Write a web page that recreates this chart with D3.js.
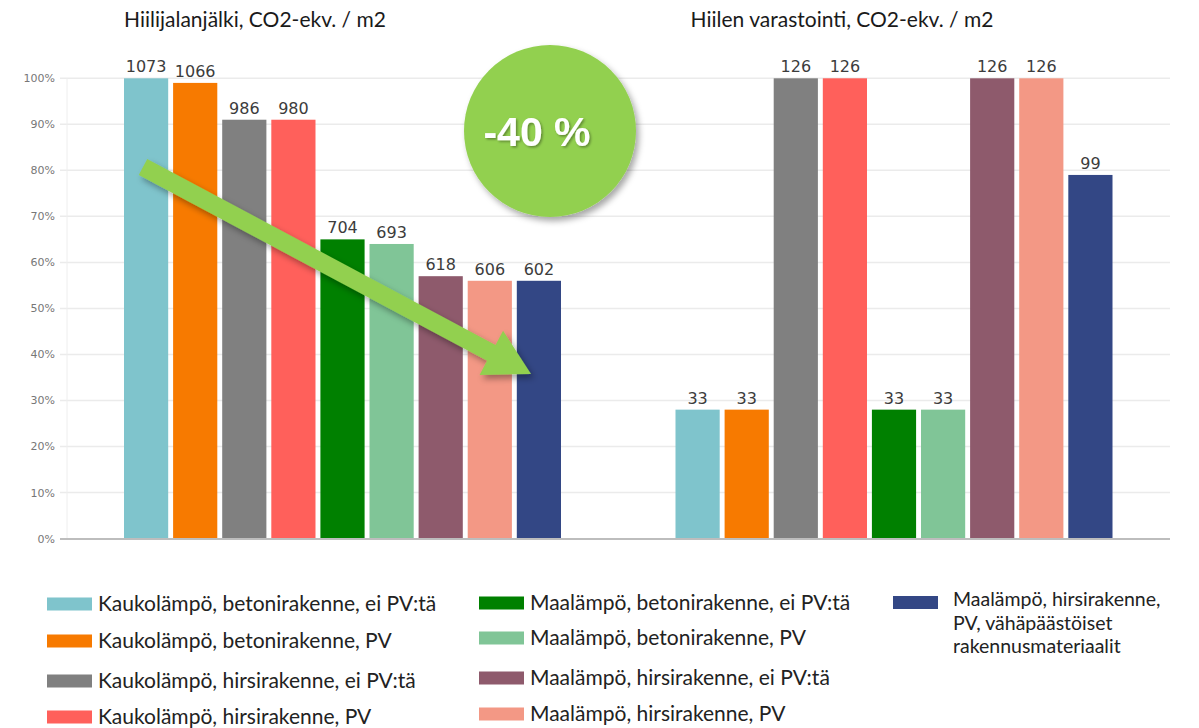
<!DOCTYPE html>
<html><head><meta charset="utf-8">
<script src="https://cdn.jsdelivr.net/npm/d3@7"></script>
<style>
html,body{margin:0;padding:0;background:#fff;}
svg{display:block;}
</style></head>
<body>
<svg id="chart" width="1199" height="728"></svg>
<script>
// ---- data ----
const groupTitles = ["Hiilijalanjälki, CO2-ekv. / m2", "Hiilen varastointi, CO2-ekv. / m2"];
const seriesNames = [
  "Kaukolämpö, betonirakenne, ei PV:tä",
  "Kaukolämpö, betonirakenne, PV",
  "Kaukolämpö, hirsirakenne, ei PV:tä",
  "Kaukolämpö, hirsirakenne, PV",
  "Maalämpö, betonirakenne, ei PV:tä",
  "Maalämpö, betonirakenne, PV",
  "Maalämpö, hirsirakenne, ei PV:tä",
  "Maalämpö, hirsirakenne, PV",
  "Maalämpö, hirsirakenne, PV, vähäpäästöiset rakennusmateriaalit"
];
const seriesColors = ["#7fc4cc","#f77a00","#808080","#ff605b","#008000","#80c597","#8e5a6c","#f39885","#334785"];
const footprintValues = [1073, 1066, 986, 980, 704, 693, 618, 606, 602];
const footprintPct    = [100, 99, 91, 91, 65, 64, 57, 56, 56];
const storageValues   = [33, 33, 126, 126, 33, 33, 126, 126, 99];
const storagePct      = [28, 28, 100, 100, 28, 28, 100, 100, 79];
const yTicks = [0,10,20,30,40,50,60,70,80,90,100];
const badgeText = "-40 %";

// ---- layout ----
const svg = d3.select("#chart");
const plot = {left: 67, right: 1170, top: 78.3, bottom: 538.5};
const y = d3.scaleLinear().domain([0,100]).range([plot.bottom, plot.top]);
const x0 = d3.scaleBand().domain([0,1]).range([plot.left, plot.right]).padding(0);
const x1 = d3.scaleBand().domain(d3.range(9)).range([57, 57+437]).paddingInner(0.1).paddingOuter(0);

const defs = svg.append("defs");
const f = defs.append("filter").attr("id","shadow").attr("x","-30%").attr("y","-30%").attr("width","160%").attr("height","160%");
f.append("feDropShadow").attr("dx",3).attr("dy",4).attr("stdDeviation",3).attr("flood-color","#000").attr("flood-opacity",0.35);
const f2 = defs.append("filter").attr("id","tshadow").attr("x","-20%").attr("y","-20%").attr("width","140%").attr("height","140%");
f2.append("feDropShadow").attr("dx",1.5).attr("dy",1.5).attr("stdDeviation",1).attr("flood-color","#000").attr("flood-opacity",0.35);

// gridlines
svg.append("g").selectAll("line").data(yTicks.filter(d=>d>0)).join("line")
  .attr("x1", 60).attr("x2", plot.right)
  .attr("y1", d=>y(d)).attr("y2", d=>y(d))
  .attr("stroke","#ebebeb").attr("stroke-width",1.5);
svg.append("line").attr("x1",plot.left).attr("x2",plot.left).attr("y1",plot.top).attr("y2",plot.bottom)
  .attr("stroke","#eeeeee").attr("stroke-width",1);

// y axis labels
const yAxis = d3.axisLeft(y).tickValues(yTicks).tickFormat(d=>d+"%").tickSize(0).tickPadding(0);
const ga = svg.append("g").attr("transform",`translate(55,0)`).call(yAxis);
ga.select(".domain").remove();
ga.selectAll("text").attr("font-family","Verdana, 'DejaVu Sans', sans-serif").attr("font-size",11).attr("fill","#777");

// bars
const groupsData = [
  {vals: footprintValues, pct: footprintPct},
  {vals: storageValues, pct: storagePct}
];
groupsData.forEach((g, gi) => {
  const gg = svg.append("g").attr("transform",`translate(${x0(gi)},0)`);
  const data = g.vals.map((v,i)=>({i, v, p: g.pct[i]}));
  gg.selectAll("rect").data(data).join("rect")
    .attr("x", d=>x1(d.i)).attr("width", x1.bandwidth())
    .attr("y", d=>y(d.p)).attr("height", d=>y(0)-y(d.p))
    .attr("fill", d=>seriesColors[d.i]);
  gg.selectAll("text").data(data).join("text")
    .attr("x", d=>x1(d.i)+x1.bandwidth()/2)
    .attr("y", d=>y(d.p)-6)
    .attr("text-anchor","middle")
    .attr("font-family","Verdana, 'DejaVu Sans', sans-serif")
    .attr("font-size",16).attr("fill","#3c3c3c")
    .text(d=>d.v);
});

// bottom axis line
svg.append("line").attr("x1",60).attr("x2",plot.right).attr("y1",plot.bottom+0.5).attr("y2",plot.bottom+0.5)
  .attr("stroke","#bdbdbd").attr("stroke-width",2);

// titles
const titleX = [255, 842];
svg.append("g").selectAll("text").data(groupTitles).join("text")
  .attr("x",(d,i)=>titleX[i]).attr("y",27).attr("text-anchor","middle")
  .attr("font-family","Lato, 'Open Sans', sans-serif").attr("font-size",21).attr("fill","#1a1a1a")
  .text(d=>d);

// arrow annotation
(function(){
  const s=[143,167], t=[531,374];
  const dx=t[0]-s[0], dy=t[1]-s[1], L=Math.hypot(dx,dy);
  const u=[dx/L,dy/L], p=[-u[1],u[0]];
  const hw=9, hl=45, hh=25;
  const b=[t[0]-u[0]*hl, t[1]-u[1]*hl];
  const pts=[
    [s[0]+p[0]*hw, s[1]+p[1]*hw],
    [b[0]+p[0]*hw, b[1]+p[1]*hw],
    [b[0]+p[0]*hh, b[1]+p[1]*hh],
    t,
    [b[0]-p[0]*hh, b[1]-p[1]*hh],
    [b[0]-p[0]*hw, b[1]-p[1]*hw],
    [s[0]-p[0]*hw, s[1]-p[1]*hw]
  ];
  svg.append("path").attr("d", d3.line()(pts)+"Z").attr("fill","#92d050").attr("filter","url(#shadow)");
})();

// badge
svg.append("circle").attr("cx",550).attr("cy",131).attr("r",86).attr("fill","#92d050").attr("filter","url(#shadow)");
svg.append("text").attr("x",537).attr("y",146).attr("text-anchor","middle")
  .attr("font-family","'Liberation Sans', Arial, sans-serif").attr("font-weight","bold").attr("font-size",41)
  .attr("fill","#fff").attr("filter","url(#tshadow)").text(badgeText);

// legend
const legendCols = [
  {x: 47, rows: [0,1,2,3], ys: [604, 641, 681, 717]},
  {x: 479, rows: [4,5,6,7], ys: [603, 638, 678, 714]},
];
const lg = svg.append("g");
legendCols.forEach(col => {
  col.rows.forEach((si, k) => {
    lg.append("rect").attr("x",col.x).attr("y",col.ys[k]-6.5).attr("width",45).attr("height",13).attr("fill",seriesColors[si]);
    lg.append("text").attr("x",col.x+51).attr("y",col.ys[k]+7)
      .attr("font-family","Lato, 'Open Sans', sans-serif").attr("font-size",21).attr("fill","#222")
      .text(seriesNames[si]);
  });
});
// third column (wrapped)
const lastLines = ["Maalämpö, hirsirakenne,", "PV, vähäpäästöiset", "rakennusmateriaalit"];
lg.append("rect").attr("x",893).attr("y",596).attr("width",45).attr("height",13).attr("fill",seriesColors[8]);
lg.append("text").attr("font-family","Lato, 'Open Sans', sans-serif").attr("font-size",19.5).attr("fill","#222")
  .selectAll("tspan").data(lastLines).join("tspan")
  .attr("x",953).attr("y",(d,i)=>606+i*23.5).text(d=>d);
</script>
</body></html>
